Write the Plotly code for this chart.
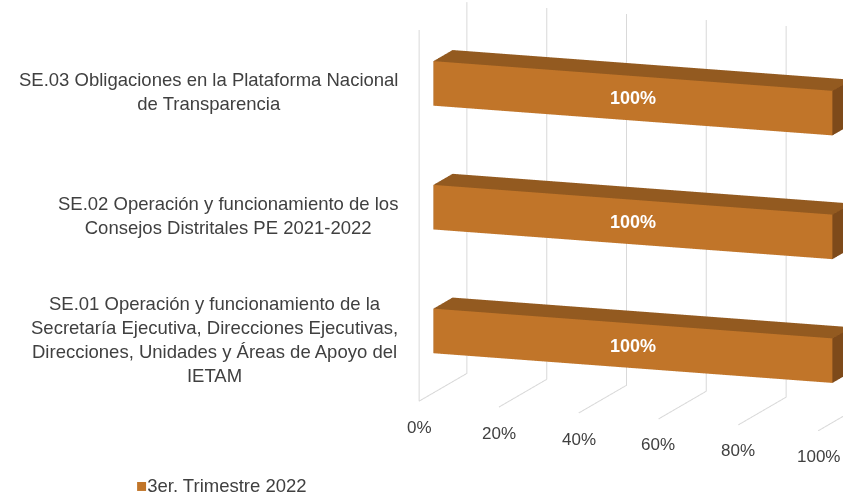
import numpy as np
import plotly.graph_objects as go

# ---------------- data ----------------
categories = [
    "SE.01 Operación y funcionamiento de la<br>Secretaría Ejecutiva, Direcciones Ejecutivas,<br>Direcciones, Unidades y Áreas de Apoyo del<br>IETAM",
    "SE.02 Operación y funcionamiento de los<br>Consejos Distritales PE 2021-2022",
    "SE.03 Obligaciones en la Plataforma Nacional<br>de Transparencia",
]
values = [100, 100, 100]          # percent
series_name = "3er. Trimestre 2022"
tick_values = [0, 20, 40, 60, 80, 100]
tick_labels = ["0%", "20%", "40%", "60%", "80%", "100%"]

# ---------------- style ----------------
FRONT = "#C17529"
TOP = "#935A20"
SIDE = "#7E4A1A"
GRID = "#D9D9D9"
TXT = "#404040"
FONT = "Liberation Sans, Arial, sans-serif"

BAR_HALF = 0.18      # half bar height (category units)
D0, D1 = 0.3, 0.7    # bar depth extent (fraction of depth)
NCAT = len(categories)

fig = go.Figure()

# bars as 3D boxes
for i, v in enumerate(values):
    x0, x1 = 0.0, v / 100.0
    y0, y1 = D0, D1
    z0, z1 = i + 0.5 - BAR_HALF, i + 0.5 + BAR_HALF
    xs, ys, zs = [], [], []
    for iz in (z0, z1):
        for iy in (y0, y1):
            for ix in (x0, x1):
                xs.append(ix); ys.append(iy); zs.append(iz)
    quads = [((0, 1, 5, 4), FRONT), ((2, 3, 7, 6), FRONT), ((0, 1, 3, 2), TOP),
             ((4, 5, 7, 6), TOP), ((0, 2, 6, 4), SIDE), ((1, 3, 7, 5), SIDE)]
    I, J, K, C = [], [], [], []
    for (a, b, c, d), col in quads:
        I += [a, a]; J += [b, c]; K += [c, d]; C += [col, col]
    fig.add_trace(go.Mesh3d(
        x=xs, y=ys, z=zs, i=I, j=J, k=K, facecolor=C, flatshading=True,
        lighting=dict(ambient=1, diffuse=0, specular=0, fresnel=0, roughness=1),
        hoverinfo="skip", showlegend=False, name=series_name))

# gridlines (back wall + floor)
gx, gy, gz = [], [], []
for t in tick_values:
    xv = t / 100.0
    if t == 0:
        gx += [xv, xv, xv, xv, None]; gy += [0, 0, 1, 1, None]; gz += [NCAT, 0, 0, NCAT, None]
    else:
        gx += [xv, xv, xv, None]; gy += [1, 1, 0, None]; gz += [NCAT, 0, 0, None]
fig.add_trace(go.Scatter3d(x=gx, y=gy, z=gz, mode="lines",
                           line=dict(color=GRID, width=2), hoverinfo="skip",
                           showlegend=False, connectgaps=False))

# annotations in scene
ann = []
for t, lab in zip(tick_values, tick_labels):
    ann.append(dict(x=t / 100.0, y=0, z=0, text=lab, showarrow=False,
                    xanchor="center", yanchor="middle", yshift=-26,
                    font=dict(family=FONT, size=17, color=TXT)))
for i, cat in enumerate(categories):
    ann.append(dict(x=0, y=0, z=i + 0.5, text=cat, showarrow=False,
                    xanchor="right", yanchor="middle", xshift=-19, yshift=0,
                    align="center", font=dict(family=FONT, size=18.5, color=TXT)))
for i, v in enumerate(values):
    ann.append(dict(x=v / 200.0, y=D0, z=i + 0.5, text=f"{v}%", showarrow=False,
                    xanchor="center", yanchor="middle",
                    font=dict(family=FONT, size=18, color="white", weight="bold")))

# camera
th, ph = np.radians(19.7), np.radians(12.0)
c = np.array([np.sin(th) * np.cos(ph), -np.cos(th) * np.cos(ph), np.sin(ph)])
center = np.array([-0.8354, -0.3266, -0.1190])
R = 3.0
eye = center + R * c
k = 1.495

ax = dict(visible=False, showspikes=False)
fig.update_layout(
    width=843, height=493, margin=dict(l=0, r=0, t=0, b=0),
    paper_bgcolor="white", showlegend=False,
    scene=dict(
        domain=dict(x=[0, 1], y=[0, 1]),
        xaxis=dict(range=[0, 1], **ax),
        yaxis=dict(range=[0, 1], **ax),
        zaxis=dict(range=[0, NCAT], **ax),
        aspectmode="manual",
        aspectratio=dict(x=1.15 * k, y=0.385 * k, z=1.03 * k),
        camera=dict(projection=dict(type="orthographic"),
                    eye=dict(x=eye[0], y=eye[1], z=eye[2]),
                    center=dict(x=center[0], y=center[1], z=center[2]),
                    up=dict(x=0, y=0, z=1)),
        annotations=ann,
        bgcolor="white",
    ),
    annotations=[dict(xref="paper", yref="paper", x=134 / 843, y=1 - 485 / 493,
                      xanchor="left", yanchor="middle", showarrow=False,
                      text=f'<span style="color:{FRONT}">■</span>{series_name}',
                      font=dict(family=FONT, size=18.5, color=TXT))],
)

fig.write_html("out.html", post_script="document.body.style.margin='0';",
               config={"displayModeBar": False})
